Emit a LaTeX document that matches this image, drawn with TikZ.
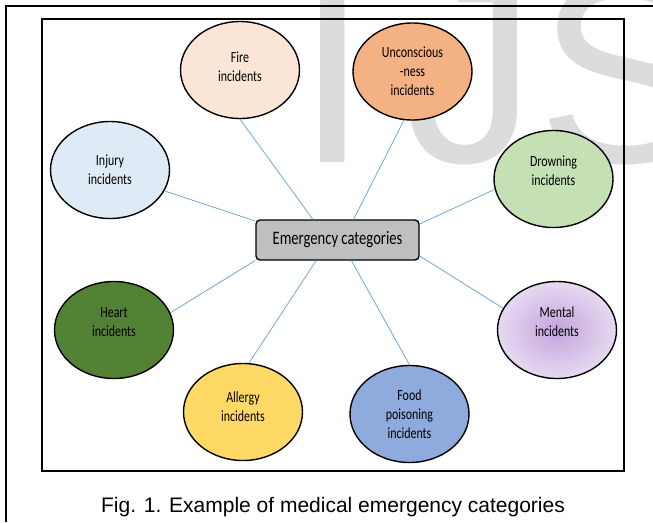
\documentclass[tikz,border=0pt]{standalone}
\usepackage{fontspec}
\usetikzlibrary{shapes.geometric}

\newfontfamily\bubblefont[FakeStretch=0.77]{Carlito}
\newfontfamily\capfont{Liberation Sans}

\definecolor{firecol}{HTML}{FBE5D6}
\definecolor{unconcol}{HTML}{F4B183}
\definecolor{injurycol}{HTML}{DEEBF7}
\definecolor{drowncol}{HTML}{C5E0B4}
\definecolor{heartcol}{HTML}{548235}
\definecolor{mentalin}{HTML}{C3A3DD}
\definecolor{mentalout}{HTML}{E6DAF0}
\definecolor{allergycol}{HTML}{FFD966}
\definecolor{foodcol}{HTML}{8FAADC}
\definecolor{boxgray}{HTML}{BFBFBF}
\definecolor{linkblue}{HTML}{6FA8DC}
\definecolor{markgray}{HTML}{DCDCDC}

\begin{document}
\begin{tikzpicture}[
    x=1pt, y=-1pt,
    every node/.style={inner sep=0pt},
    bubble/.style={ellipse, draw=black, line width=1.4pt,
        minimum width=119pt, minimum height=97pt, align=center,
        font=\bubblefont\fontsize{15.5}{19}\selectfont},
    lift/.style={text depth=#1},
    catbox/.style={rectangle, rounded corners=4pt, draw=black, line width=1.4pt,
        fill=boxgray, minimum width=163pt, minimum height=40pt,
        font=\bubblefont\fontsize{19}{23}\selectfont},
    link/.style={draw=linkblue, line width=0.8pt}
]

\useasboundingbox (0,0) rectangle (653,522);
\clip (0,0) rectangle (653,522);

% watermark behind everything
\node[anchor=base west, text=markgray,
      font=\capfont\fontsize{261}{261}\selectfont] (mark) at (296,162) {I\kern38pt JS};

% frames
\draw[line width=1.2pt] (6,522) -- (6,6) -- (653,6);
\draw[line width=2pt] (42,19) rectangle (624,471);

% centre box
\node[catbox] (emerg) at (337.5,240) {Emergency categories};

% categories
\node[bubble, fill=firecol, lift=6pt]   (fire)    at (240,70)    {Fire\\incidents};
\node[bubble, fill=unconcol]            (uncon)   at (412.5,71.5) {Unconscious\\-ness\\incidents};
\node[bubble, fill=injurycol]           (injury)  at (110,170)   {Injury\\incidents};
\node[bubble, fill=drowncol, lift=16pt] (drown)   at (553.5,179) {Drowning\\incidents};
\node[bubble, fill=heartcol, lift=16pt] (heart)   at (114,330)   {Heart\\incidents};
\node[bubble, inner color=mentalin, outer color=mentalout, lift=16pt]
                                        (mental)  at (557,330)   {Mental\\incidents};
\node[bubble, fill=allergycol, lift=10pt] (allergy) at (243,412) {Allergy\\incidents};
\node[bubble, fill=foodcol]             (food)    at (409.5,414) {Food\\poisoning\\incidents};

% links from the box
\draw[link] (emerg.140) -- (fire.south);
\draw[link] (emerg.52)  -- (uncon.260);
\draw[link] (emerg.167) -- (injury.339);
\draw[link] (emerg.11)  -- (drown.190);
\draw[link] (emerg.349) -- (mental.158);
\draw[link] (emerg.194) -- (heart.17);
\draw[link] (emerg.224) -- (allergy.83);
\draw[link] (emerg.304) -- (food.north);

% caption
\node[font=\capfont\fontsize{21}{25}\selectfont] (caption) at (333,507)
    {Fig. 1. Example of medical emergency categories};

\end{tikzpicture}
\end{document}
